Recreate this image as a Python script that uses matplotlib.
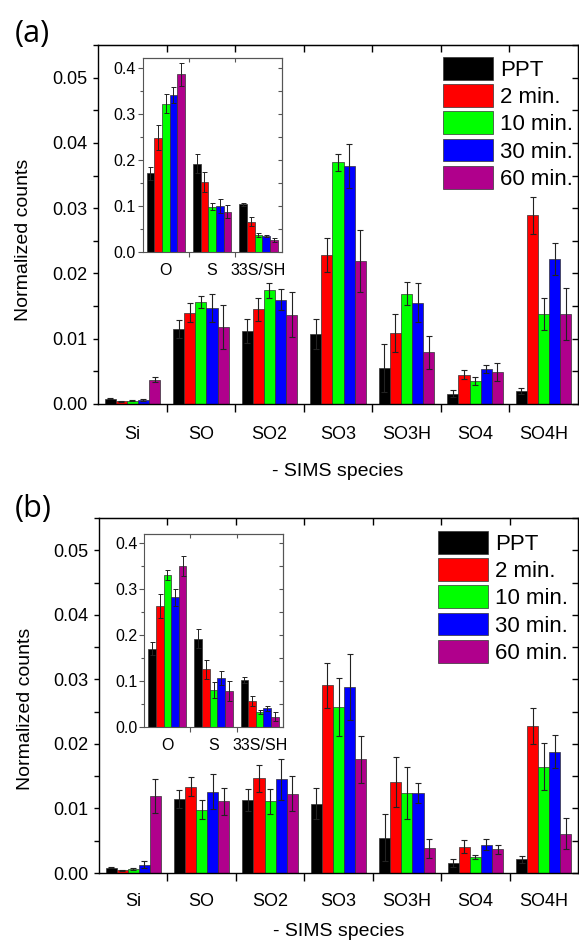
import matplotlib
matplotlib.use("Agg")
import matplotlib.pyplot as plt
import numpy as np
from matplotlib.ticker import MultipleLocator, FormatStrFormatter, FixedLocator, NullFormatter

plt.rcParams['font.family'] = ['Liberation Sans', 'DejaVu Sans']

species = ["Si", "SO", "SO2", "SO3", "SO3H", "SO4", "SO4H"]
inset_species = ["O", "S", "33S/SH"]
series = ["PPT", "2 min.", "10 min.", "30 min.", "60 min."]
colors = ["#000000", "#FF0000", "#00FF00", "#0000FF", "#B0008C"]

# Panel (a) main values, per series (rows) over species (cols)
a_vals = [
    [0.0008, 0.0115, 0.0112, 0.0107, 0.0055, 0.0016, 0.0020],
    [0.0004, 0.0140, 0.0145, 0.0228, 0.0109, 0.0045, 0.0289],
    [0.0005, 0.0156, 0.0174, 0.0370, 0.0169, 0.0035, 0.0138],
    [0.0006, 0.0147, 0.0160, 0.0365, 0.0155, 0.0053, 0.0222],
    [0.0037, 0.0118, 0.0137, 0.0219, 0.0079, 0.0049, 0.0138],
]
a_errs = [
    [0.0001, 0.0014, 0.0018, 0.0023, 0.0037, 0.0006, 0.0005],
    [0.0001, 0.0014, 0.0018, 0.0026, 0.0029, 0.0007, 0.0028],
    [0.0001, 0.0009, 0.0012, 0.0013, 0.0018, 0.0006, 0.0025],
    [0.0001, 0.0021, 0.0016, 0.0034, 0.0030, 0.0006, 0.0025],
    [0.0004, 0.0033, 0.0034, 0.0047, 0.0025, 0.0014, 0.0040],
]
a_inset_vals = [
    [0.171, 0.192, 0.104],
    [0.248, 0.152, 0.066],
    [0.322, 0.099, 0.037],
    [0.340, 0.101, 0.035],
    [0.385, 0.088, 0.027],
]
a_inset_errs = [
    [0.014, 0.020, 0.003],
    [0.027, 0.021, 0.010],
    [0.020, 0.008, 0.004],
    [0.017, 0.015, 0.002],
    [0.025, 0.014, 0.004],
]

# Panel (b)
b_vals = [
    [0.0008, 0.0115, 0.0113, 0.0107, 0.0055, 0.0016, 0.0021],
    [0.0004, 0.0134, 0.0147, 0.0291, 0.0141, 0.0041, 0.0228],
    [0.0006, 0.0098, 0.0111, 0.0257, 0.0124, 0.0025, 0.0165],
    [0.0013, 0.0126, 0.0145, 0.0288, 0.0124, 0.0044, 0.0188],
    [0.0119, 0.0111, 0.0123, 0.0176, 0.0038, 0.0037, 0.0061],
]
b_errs = [
    [0.0001, 0.0014, 0.0017, 0.0024, 0.0037, 0.0006, 0.0005],
    [0.0001, 0.0014, 0.0021, 0.0035, 0.0038, 0.0010, 0.0028],
    [0.0001, 0.0015, 0.0019, 0.0045, 0.0040, 0.0003, 0.0037],
    [0.0005, 0.0027, 0.0032, 0.0051, 0.0015, 0.0009, 0.0026],
    [0.0026, 0.0021, 0.0027, 0.0036, 0.0014, 0.0007, 0.0024],
]
b_inset_vals = [
    [0.171, 0.193, 0.103],
    [0.264, 0.126, 0.057],
    [0.332, 0.081, 0.033],
    [0.283, 0.107, 0.041],
    [0.351, 0.079, 0.023],
]
b_inset_errs = [
    [0.014, 0.020, 0.006],
    [0.026, 0.020, 0.011],
    [0.011, 0.018, 0.005],
    [0.018, 0.016, 0.006],
    [0.021, 0.022, 0.010],
]

W, H = 579, 941
fig = plt.figure(figsize=(W / 100, H / 100), dpi=100)


def fr(l, t, r, b):
    return [l / W, 1 - b / H, (r - l) / W, (b - t) / H]


def grouped_bars(ax, vals, errs, width, capsize, elw):
    conts = []
    n = len(vals[0])
    xs = np.arange(n)
    for j, (v, e) in enumerate(zip(vals, errs)):
        x = xs + (j - 2) * width
        c = ax.bar(x, v, width=width, color=colors[j], edgecolor="#333333",
                   linewidth=0.5, label=series[j], zorder=2)
        ax.errorbar(x, v, yerr=e, fmt="none", ecolor="#222222",
                    elinewidth=elw, capsize=capsize, capthick=elw, zorder=3)
        conts.append(c)
    return conts


def style_main(ax, labpad):
    ax.set_xlim(-0.5, 6.5)
    ax.set_ylim(0, 0.055)
    ax.set_xticks(range(7))
    ax.set_xticklabels(species, fontsize=13)
    ax.xaxis.set_minor_locator(FixedLocator(np.arange(0.5, 6.0, 1.0)))
    ax.tick_params(axis="x", which="major", length=0, pad=labpad)
    ax.tick_params(axis="x", which="minor", direction="out", length=5.5, width=1.0)
    ax.yaxis.set_major_locator(MultipleLocator(0.01))
    ax.yaxis.set_minor_locator(MultipleLocator(0.005))
    ax.yaxis.set_major_formatter(FormatStrFormatter("%.2f"))
    ax.tick_params(axis="y", which="both", direction="out", length=3.6, width=1.0,
                   labelsize=13, pad=4)
    for s in ax.spines.values():
        s.set_linewidth(1.0)
    top = ax.secondary_xaxis("top")
    top.set_xticks(np.arange(0.5, 6.0, 1.0))
    top.xaxis.set_major_formatter(NullFormatter())
    top.tick_params(direction="in", length=5, width=1.0)
    right = ax.secondary_yaxis("right")
    right.yaxis.set_major_locator(MultipleLocator(0.005))
    right.yaxis.set_major_formatter(NullFormatter())
    right.tick_params(direction="in", length=4.5, width=1.0)


def style_inset(ax):
    ax.set_xlim(-0.5, 2.5)
    ax.set_ylim(0, 0.42)
    ax.set_xticks(range(3))
    ax.set_xticklabels(inset_species, fontsize=11.5)
    ax.xaxis.set_minor_locator(FixedLocator([0.5, 1.5]))
    ax.tick_params(axis="x", which="major", length=0, pad=8)
    ax.tick_params(axis="x", which="minor", direction="out", length=3.5,
                   width=0.8, color="#555555")
    ax.yaxis.set_major_locator(MultipleLocator(0.1))
    ax.yaxis.set_minor_locator(MultipleLocator(0.05))
    ax.yaxis.set_major_formatter(FormatStrFormatter("%.1f"))
    ax.tick_params(axis="y", which="major", direction="out", length=3.5, width=0.8,
                   labelsize=11.5, pad=1.5, color="#555555")
    ax.tick_params(axis="y", which="minor", direction="out", length=2.2, width=0.8,
                   color="#555555")
    for s in ax.spines.values():
        s.set_linewidth(0.8)
        s.set_color("#555555")
    top = ax.secondary_xaxis("top")
    top.set_xticks([0.5, 1.5])
    top.xaxis.set_major_formatter(NullFormatter())
    top.tick_params(direction="in", length=3, width=0.8, color="#555555")
    top.spines["top"].set_color("#555555")
    right = ax.secondary_yaxis("right")
    right.yaxis.set_major_locator(MultipleLocator(0.05))
    right.yaxis.set_major_formatter(NullFormatter())
    right.tick_params(direction="in", length=3, width=0.8, color="#555555")
    right.spines["right"].set_color("#555555")


panels = [
    dict(main=(98, 45, 578, 404), inset=(142.5, 58.3, 281.7, 252.3),
         vals=a_vals, errs=a_errs, ivals=a_inset_vals, ierrs=a_inset_errs,
         labpad=15.5, leg=(443, 57), ylab=(23.5, 239.5), xlab=476.5,
         tag="(a)", tagpos=(15, 19)),
    dict(main=(99, 518, 578, 873), inset=(144.3, 534.3, 282.7, 727.3),
         vals=b_vals, errs=b_errs, ivals=b_inset_vals, ierrs=b_inset_errs,
         labpad=14.5, leg=(438, 531), ylab=(25.5, 709), xlab=935.5,
         tag="(b)", tagpos=(15, 494)),
]

for p in panels:
    l, t, r, b = p["main"]
    ax = fig.add_axes(fr(l, t, r, b))
    conts = grouped_bars(ax, p["vals"], p["errs"], 0.162, 2.5, 0.8)
    style_main(ax, p["labpad"])
    lx, ly = p["leg"]
    ax.legend(handles=conts, loc="upper left",
              bbox_to_anchor=((lx - l) / (r - l), (b - ly) / (b - t)),
              borderaxespad=0, borderpad=0, frameon=False, fontsize=16,
              handlelength=2.25, handleheight=1.2, labelspacing=0.15,
              handletextpad=0.3)
    il, it, ir, ib = p["inset"]
    ax2 = fig.add_axes(fr(il, it, ir, ib))
    grouped_bars(ax2, p["ivals"], p["ierrs"], 0.165, 1.8, 0.7)
    style_inset(ax2)
    fig.text(p["ylab"][0] / W, 1 - p["ylab"][1] / H, "Normalized counts",
             rotation=90, ha="center", va="center", fontsize=14)
    fig.text(((l + r) / 2) / W, 1 - p["xlab"] / H, "- SIMS species",
             ha="center", va="baseline", fontsize=14)
    fig.text(p["tagpos"][0] / W, 1 - p["tagpos"][1] / H, p["tag"],
             ha="left", va="top", fontsize=22, family=["Open Sans", "DejaVu Sans"])

fig.savefig("out.png", dpi=100)
